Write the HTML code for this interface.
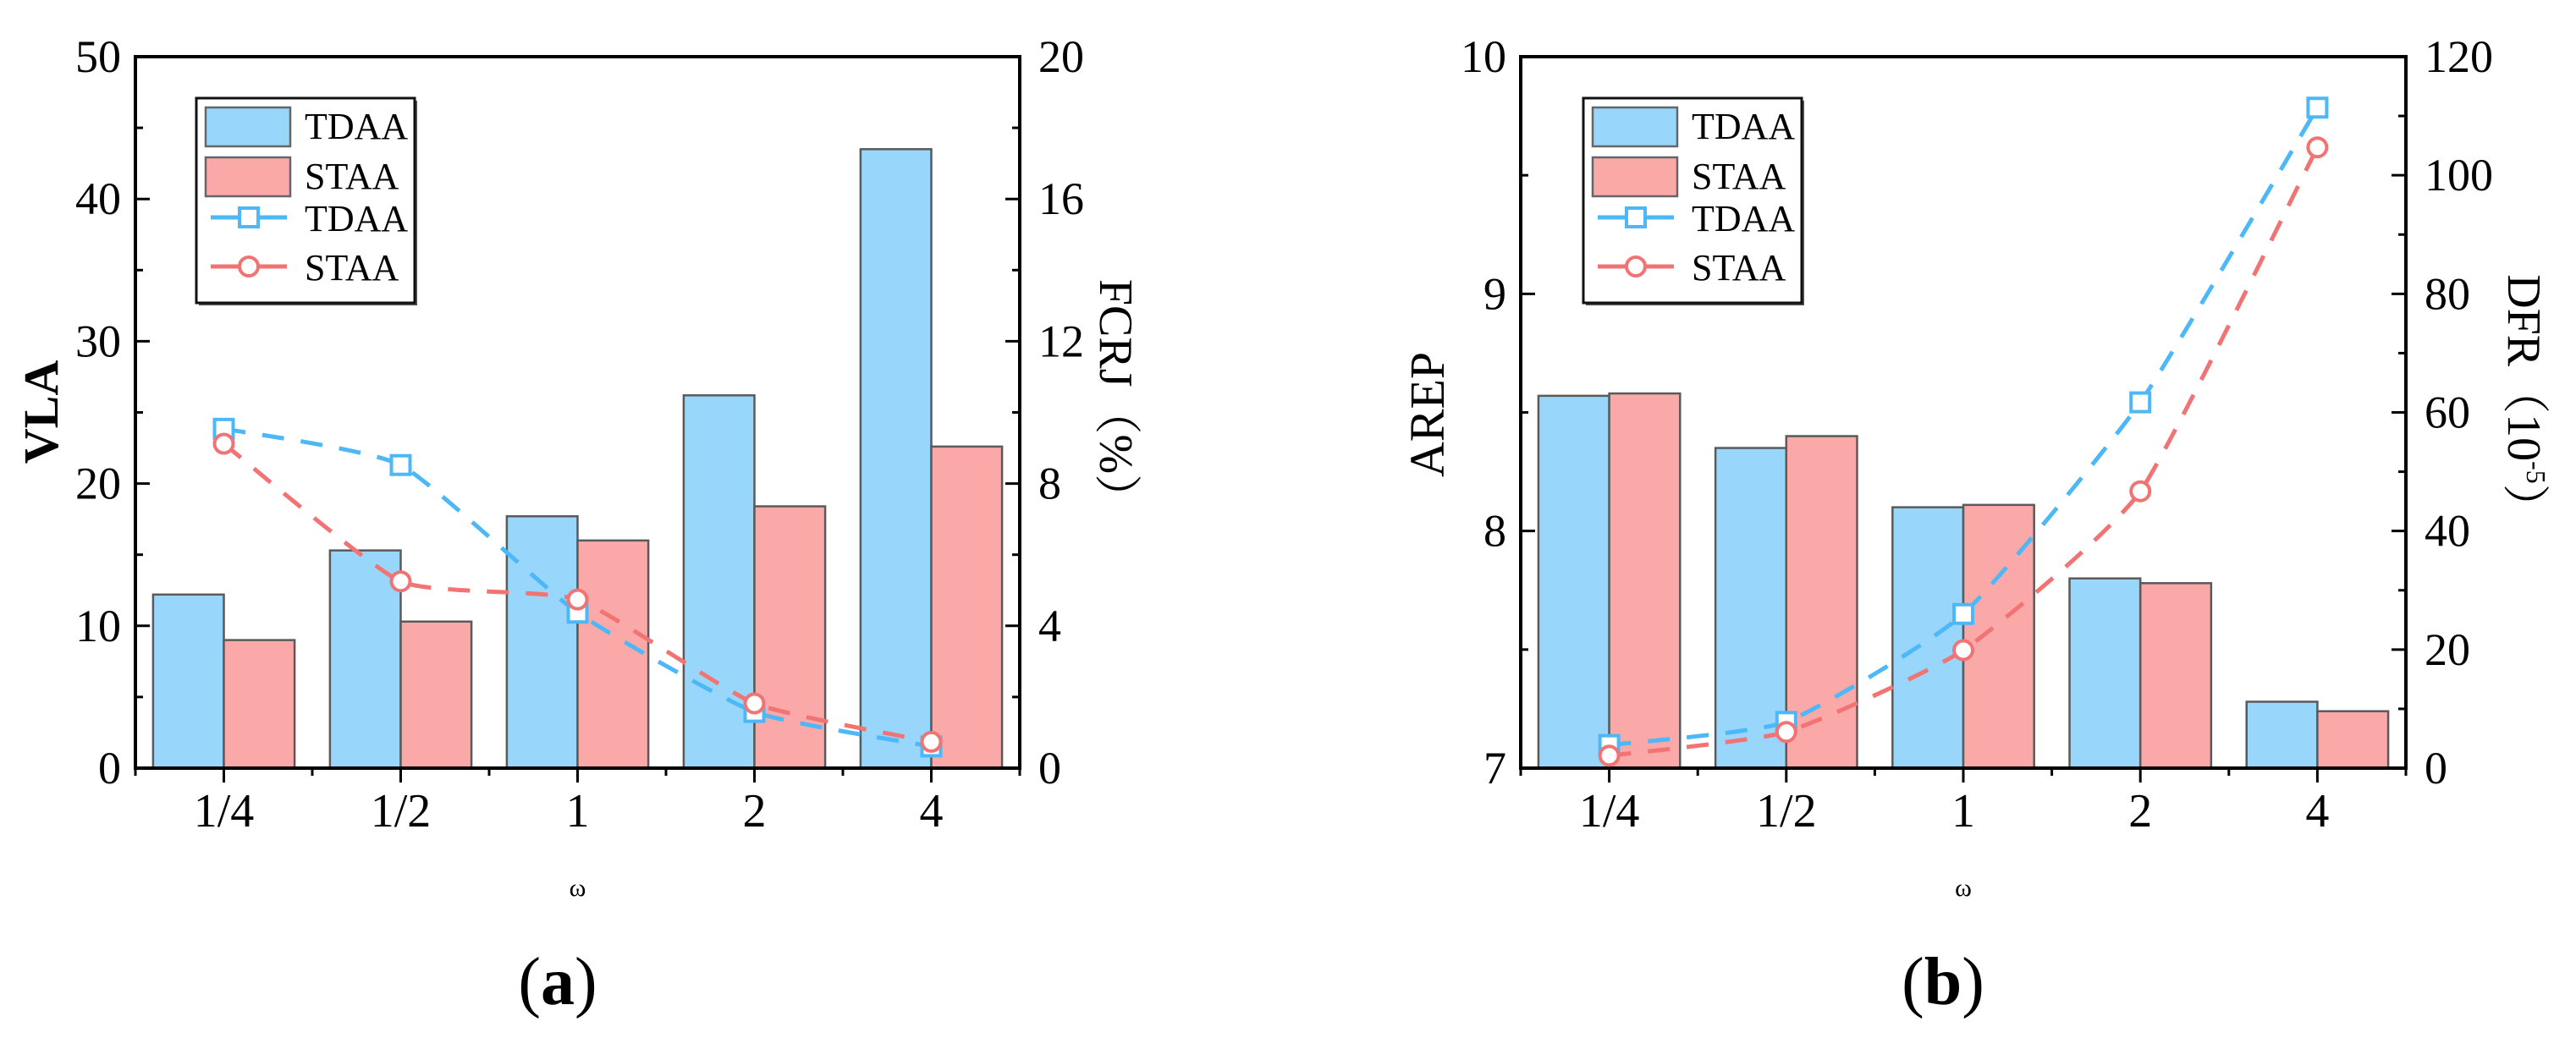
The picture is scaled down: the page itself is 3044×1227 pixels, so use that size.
<!DOCTYPE html>
<html><head><meta charset="utf-8">
<style>
html,body{margin:0;padding:0;background:#fff;}
svg{display:block;font-family:"Liberation Serif","Noto Serif CJK SC",serif;}
</style></head>
<body>
<svg id="chart" width="3044" height="1227" viewBox="0 0 3044 1227" xmlns="http://www.w3.org/2000/svg"></svg>
<script>
const categories = ["1/4","1/2","1","2","4"];
// Chart (a)
const aBarTDAA = [12.2, 15.3, 17.7, 26.2, 43.5];
const aBarSTAA = [9.0, 10.3, 16.0, 18.4, 22.6];
const aLineTDAA = [9.54, 8.52, 4.37, 1.58, 0.61];
const aLineSTAA = [9.12, 5.25, 4.74, 1.82, 0.74];
const aLeftTicks = ["0","10","20","30","40","50"];
const aRightTicks = ["0","4","8","12","16","20"];
// Chart (b)
const bBarTDAA = [8.57, 8.35, 8.10, 7.80, 7.28];
const bBarSTAA = [8.58, 8.40, 8.11, 7.78, 7.24];
const bLineTDAA = [3.9, 7.8, 26, 61.7, 111.4];
const bLineSTAA = [2.1, 6.1, 19.9, 46.7, 104.7];
const bLeftTicks = ["7","8","9","10"];
const bRightTicks = ["0","20","40","60","80","100","120"];

const NS="http://www.w3.org/2000/svg";
const svg=document.getElementById('chart');
function mk(tag,attrs,parent){const e=document.createElementNS(NS,tag);for(const k in attrs)e.setAttribute(k,attrs[k]);(parent||svg).appendChild(e);return e;}
const BLUE="#99d6fc", RED="#fba8a8", LBLUE="#4db8f7", LRED="#f27373";

function smooth(pts){
  let d="M"+pts[0][0]+","+pts[0][1];
  const k=12;
  for(let i=0;i<pts.length-1;i++){
    const p0=pts[Math.max(0,i-1)],p1=pts[i],p2=pts[i+1],p3=pts[Math.min(pts.length-1,i+2)];
    const c1x=p1[0]+(p2[0]-p0[0])/k,c1y=p1[1]+(p2[1]-p0[1])/k;
    const c2x=p2[0]-(p3[0]-p1[0])/k,c2y=p2[1]-(p3[1]-p1[1])/k;
    d+=" C"+c1x+","+c1y+" "+c2x+","+c2y+" "+p2[0]+","+p2[1];
  }
  return d;
}

function drawChart(o){
  const g=mk('g',{});
  
  
  const L=o.x0,R=o.x1,T=67,B=908;
  const n=categories.length, cw=(R-L)/n, bw=cw*0.4;
  const yL=v=>B-(v-o.lmin)/(o.lmax-o.lmin)*(B-T);
  const yR=v=>B-(v-o.rmin)/(o.rmax-o.rmin)*(B-T);
  const xC=i=>L+cw*(i+0.5);
  for(let i=0;i<n;i++){
    const b1=mk('rect',{x:xC(i)-bw,y:yL(o.barA[i]),width:bw,height:B-yL(o.barA[i]),fill:BLUE,stroke:"#5a5a5a","stroke-width":2.5},g);
    
    
    const b2=mk('rect',{x:xC(i),y:yL(o.barB[i]),width:bw,height:B-yL(o.barB[i]),fill:RED,stroke:"#5a5a5a","stroke-width":2.5},g);
    
    
  }
  const fr=mk('rect',{x:L,y:T,width:R-L,height:B-T,fill:"none",stroke:"#000","stroke-width":4},g);
  
  
  const series=[[o.lineA,LBLUE,'sq','line-tdaa'],[o.lineB,LRED,'ci','line-staa']];
  series.forEach(s=>{
    const pts=s[0].map((v,i)=>[xC(i),yR(v)]);
    const p=mk('path',{d:smooth(pts),fill:"none",stroke:s[1],"stroke-width":5,"stroke-dasharray":"26 20"},g);
    
    
    pts.forEach((q,i)=>{
      let m;
      if(s[2]==='sq') m=mk('rect',{x:q[0]-11,y:q[1]-11,width:22,height:22,fill:"#fff",stroke:s[1],"stroke-width":4},g);
      else m=mk('circle',{cx:q[0],cy:q[1],r:11,fill:"#fff",stroke:s[1],"stroke-width":4},g);
      
      
    });
  });
  o.lticks.forEach((t,i)=>{
    const v=o.lmin+i*o.lstep, y=yL(v);
    mk('line',{x1:L,x2:L+17,y1:y,y2:y,stroke:"#000","stroke-width":3},g);
    if(i<o.lticks.length-1){const ym=yL(v+o.lstep/2);mk('line',{x1:L,x2:L+9,y1:ym,y2:ym,stroke:"#000","stroke-width":3},g);}
    const tx=mk('text',{x:L-17,y:y+18,"font-size":54,"text-anchor":"end"},g);
    tx.textContent=t;
    
    
  });
  o.rticks.forEach((t,i)=>{
    const v=o.rmin+i*o.rstep, y=yR(v);
    mk('line',{x1:R,x2:R-17,y1:y,y2:y,stroke:"#000","stroke-width":3},g);
    if(i<o.rticks.length-1){const ym=yR(v+o.rstep/2);mk('line',{x1:R,x2:R-9,y1:ym,y2:ym,stroke:"#000","stroke-width":3},g);}
    const tx=mk('text',{x:R+22,y:y+18,"font-size":54},g);
    tx.textContent=t;
    
    
  });
  for(let i=0;i<=n;i++){
    const xb=L+cw*i; mk('line',{x1:xb,x2:xb,y1:B,y2:B+9,stroke:"#000","stroke-width":3},g);
  }
  categories.forEach((c,i)=>{
    mk('line',{x1:xC(i),x2:xC(i),y1:B,y2:B+17,stroke:"#000","stroke-width":3},g);
    const tx=mk('text',{x:xC(i),y:977,"font-size":56,"text-anchor":"middle"},g);
    tx.textContent=c;
    
    
  });
  const w=mk('text',{x:(L+R)/2,y:1059,"font-size":30,"text-anchor":"middle"},g);
  w.textContent="ω";
  
  
  const lt=mk('text',{x:0,y:0,"font-size":58,"text-anchor":"middle",transform:`translate(${o.ltx},${o.lty}) rotate(-90)`,"font-weight":o.lbold?"bold":"normal"},g);
  lt.textContent=o.ltitle;
  
  
  const rt=mk('text',{x:0,y:0,"font-size":56,"text-anchor":"middle",transform:`translate(${o.rtx},${o.rty}) rotate(90)`},g);
  rt.textContent=o.rtitle;
  if(o.rsup){const sp=mk('tspan',{"font-size":32,dy:-22},rt);sp.textContent=o.rsup;const sp2=mk('tspan',{dy:22},rt);sp2.textContent="）";}
  
  
  const lx=o.legx, ly=116;
  const lg=mk('g',{},g);
  
  
  mk('rect',{x:lx+3,y:ly+3,width:258,height:242,fill:"#555"},lg);
  mk('rect',{x:lx,y:ly,width:258,height:242,fill:"#fff",stroke:"#111","stroke-width":3},lg);
  mk('rect',{x:lx+11,y:ly+11,width:100,height:46,fill:BLUE,stroke:"#666","stroke-width":2.5},lg);
  mk('rect',{x:lx+11,y:ly+70,width:100,height:46,fill:RED,stroke:"#666","stroke-width":2.5},lg);
  mk('line',{x1:lx+17,x2:lx+107,y1:ly+141,y2:ly+141,stroke:LBLUE,"stroke-width":5},lg);
  mk('rect',{x:lx+51,y:ly+130,width:22,height:22,fill:"#fff",stroke:LBLUE,"stroke-width":4},lg);
  mk('line',{x1:lx+17,x2:lx+107,y1:ly+199,y2:ly+199,stroke:LRED,"stroke-width":5},lg);
  mk('circle',{cx:lx+62,cy:ly+199,r:11,fill:"#fff",stroke:LRED,"stroke-width":4},lg);
  [["TDAA",48],["STAA",107],["TDAA",157],["STAA",215]].forEach(e=>{
    const t=mk('text',{x:lx+128,y:ly+e[1]-0,"font-size":44},lg);
    t.textContent=e[0];
    
    
  });
  const pl=mk('text',{x:o.plx,y:1187,"font-size":80,"text-anchor":"middle"},g);
  pl.textContent="(";
  const ps=mk('tspan',{"font-weight":"bold"},pl);ps.textContent=o.pl;
  const pe=mk('tspan',{},pl);pe.textContent=")";
  
  
}

drawChart({name:'chart-a',x0:160,x1:1205,lmin:0,lmax:50,lstep:10,rmin:0,rmax:20,rstep:4,
  barA:aBarTDAA,barB:aBarSTAA,lineA:aLineTDAA,lineB:aLineSTAA,lticks:aLeftTicks,rticks:aRightTicks,
  ltitle:"VLA",ltx:68,lty:487,lbold:true,rtitle:"FCRJ（%）",rtx:1300,rty:473,legx:232,plx:659,pl:"a"});
drawChart({name:'chart-b',x0:1797,x1:2843,lmin:7,lmax:10,lstep:1,rmin:0,rmax:120,rstep:20,
  barA:bBarTDAA,barB:bBarSTAA,lineA:bLineTDAA,lineB:bLineSTAA,lticks:bLeftTicks,rticks:bRightTicks,
  ltitle:"AREP",ltx:1706,lty:490,lbold:false,rtitle:"DFR（10",rsup:"-5",rtx:2964,rty:476,legx:1871,plx:2296,pl:"b"});
</script>
</body></html>
